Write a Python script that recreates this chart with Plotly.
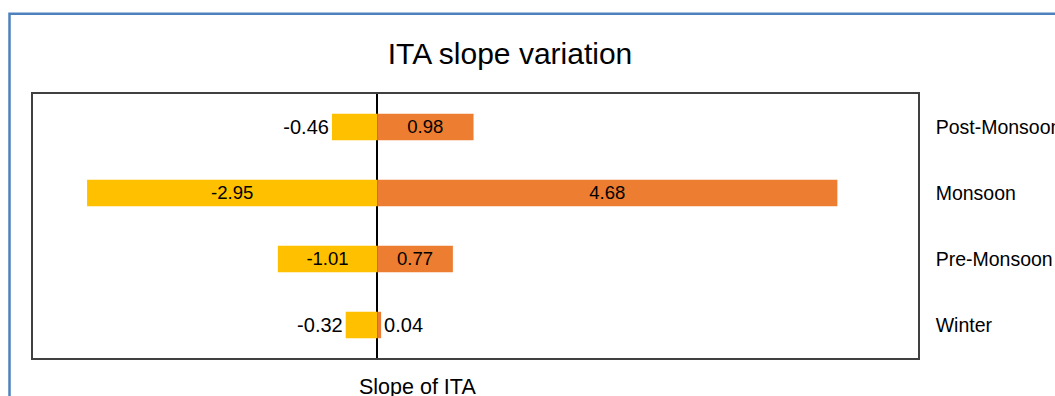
import plotly.graph_objects as go

categories = ["Winter", "Pre-Monsoon", "Monsoon", "Post-Monsoon"]
neg_values = [-0.32, -1.01, -2.95, -0.46]
pos_values = [0.04, 0.77, 4.68, 0.98]
neg_textpos = ["outside", "inside", "inside", "outside"]
pos_textpos = ["outside", "inside", "inside", "inside"]

OFF = 0  # body margin removed by post_script below
W, H = 1055, 396
pw, ph = 885, 264
L, T = 33 - OFF, 94 - OFF
R, B = W - L - pw, H - T - ph

fnt = "Liberation Sans, Arial, sans-serif"

fig = go.Figure()
fig.add_trace(go.Bar(
    y=categories, x=neg_values, orientation="h", marker_color="#FFC000",
    marker_line_width=0, width=0.4,
    text=[f"{v:.2f}" for v in neg_values], textposition=neg_textpos,
    insidetextanchor="middle", textfont=dict(family=fnt, size=20, color="#000000"),
    cliponaxis=False, showlegend=False, name="neg"))
fig.add_trace(go.Bar(
    y=categories, x=pos_values, orientation="h", marker_color="#ED7D31",
    marker_line_width=0, width=0.4,
    text=[f"{v:.2f}" for v in pos_values], textposition=pos_textpos,
    insidetextanchor="middle", textfont=dict(family=fnt, size=20, color="#000000"),
    cliponaxis=False, showlegend=False, name="pos"))

# page-pixel helpers (reference coordinates)
def px_x(x):
    return (x - OFF - L) / pw

def px_y(y):
    return ((T + ph) - (y - OFF)) / ph

fig.update_layout(
    width=W, height=H, barmode="relative", autosize=False,
    margin=dict(l=L, r=R, t=T, b=B, autoexpand=False),
    paper_bgcolor="white", plot_bgcolor="white",
    font=dict(family=fnt, color="#000000"),
    title=dict(text="ITA slope variation", x=(510 - OFF) / W, xref="container", xanchor="center",
               y=1 - (53 - OFF) / H, yref="container", yanchor="middle",
               font=dict(family=fnt, size=30, color="#000000")),
    xaxis=dict(range=[-3.5, 5.5], showticklabels=False, showgrid=False,
               zeroline=True, zerolinecolor="#000000", zerolinewidth=1.5,
               showline=True, mirror=True, linecolor="#404040", linewidth=1.5,
               ticks="", automargin=False),
    yaxis=dict(side="right", showgrid=False, zeroline=False,
               showline=True, mirror=True, linecolor="#404040", linewidth=1.5,
               ticks="", ticklabelstandoff=12, automargin=False,
               tickfont=dict(family=fnt, size=19.5, color="#000000")),
    annotations=[dict(text="Slope of ITA", xref="paper", yref="paper",
                      x=px_x(417), y=px_y(373),
                      xanchor="center", yanchor="top", showarrow=False,
                      font=dict(family=fnt, size=21.5, color="#000000"))],
    shapes=[dict(type="rect", xref="paper", yref="paper",
                 x0=px_x(9.5), x1=px_x(1100),
                 y0=px_y(450), y1=px_y(13.8),
                 line=dict(color="#4F81BD", width=2.5), layer="below")],
)

fig.write_html(
    "out.html",
    config={"displayModeBar": False},
    post_script="document.body.style.margin='0px';document.body.style.overflow='hidden';",
)
